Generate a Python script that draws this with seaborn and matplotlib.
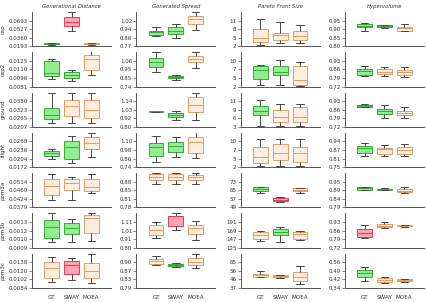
import numpy as np
import matplotlib
matplotlib.use('Agg')
import matplotlib.pyplot as plt
import seaborn as sns

ALGS = ['GT', 'SWAY', 'MOEA']
DATASETS = ['osp', 'osp2', 'ground', 'flight', 'pom3a', 'pom3b', 'pom3c']
METRICS = ['Generational Distance', 'Generated Spread', 'Pareto Front Size', 'Hypervolume']

# each box: [min, q1, median, q3, max], rows follow DATASETS, boxes follow ALGS
GD_BOXES = [
    [[0.0225, 0.0238, 0.0244, 0.0257, 0.0264], [0.0482, 0.0597, 0.0672, 0.0770, 0.0853], [0.0225, 0.0236, 0.0245, 0.0255, 0.0263]],
    [[0.00934, 0.00991, 0.01047, 0.01244, 0.0129], [0.00907, 0.00962, 0.01002, 0.01058, 0.0110], [0.01002, 0.01092, 0.01284, 0.01357, 0.01414]],
    [[0.0230, 0.0263, 0.0290, 0.0336, 0.0433], [0.0236, 0.0278, 0.0349, 0.0385, 0.0433], [0.0230, 0.0267, 0.0318, 0.0385, 0.0433]],
    [[0.0202, 0.0214, 0.0223, 0.0232, 0.0238], [0.0188, 0.0204, 0.0249, 0.0268, 0.0290], [0.0210, 0.0238, 0.0263, 0.0283, 0.0300]],
    [[0.0420, 0.0442, 0.0492, 0.0528, 0.0555], [0.0420, 0.0469, 0.0505, 0.0527, 0.0539], [0.0453, 0.0465, 0.0485, 0.0528, 0.0555]],
    [[0.00098, 0.00105, 0.001235, 0.00135, 0.001465], [0.00098, 0.00111, 0.00122, 0.00129, 0.00136], [0.00100, 0.00113, 0.00138, 0.00144, 0.00146]],
    [[0.0096, 0.0106, 0.0126, 0.0138, 0.0149], [0.0101, 0.0113, 0.0132, 0.0141, 0.0148], [0.0094, 0.0106, 0.0120, 0.0137, 0.0156]],
]
GS_BOXES = [
    [[0.876, 0.886, 0.908, 0.924, 0.959], [0.857, 0.895, 0.924, 0.959, 0.991], [0.931, 0.985, 1.042, 1.071, 1.103]],
    [[0.917, 0.987, 1.040, 1.090, 1.168], [0.822, 0.843, 0.855, 0.868, 0.888], [0.974, 1.052, 1.082, 1.119, 1.172]],
    [[0.998, 1.002, 1.008, 1.013, 1.017], [0.894, 0.928, 0.963, 0.984, 1.006], [0.899, 0.998, 1.093, 1.192, 1.244]],
    [[0.819, 0.903, 1.021, 1.072, 1.179], [0.889, 0.959, 1.039, 1.095, 1.156], [0.866, 0.945, 1.086, 1.165, 1.226]],
    [[0.873, 0.885, 0.898, 0.909, 0.913], [0.873, 0.886, 0.899, 0.909, 0.913], [0.873, 0.888, 0.900, 0.908, 0.913]],
    [[0.919, 0.959, 1.015, 1.078, 1.106], [1.011, 1.066, 1.177, 1.185, 1.217], [0.892, 0.963, 1.042, 1.074, 1.122]],
    [[0.892, 0.898, 0.909, 0.918, 0.929], [0.884, 0.888, 0.894, 0.898, 0.901], [0.880, 0.890, 0.904, 0.923, 0.940]],
]
PFS_BOXES = [
    [[2.35, 3.38, 4.88, 8.0, 11.58], [3.15, 4.31, 5.81, 6.73, 10.54], [3.15, 4.31, 5.69, 7.42, 9.5]],
    [[2.41, 4.36, 7.13, 8.46, 8.6], [2.41, 5.49, 6.62, 8.46, 10.4], [2.31, 2.62, 3.95, 8.46, 9.59]],
    [[3.81, 6.99, 8.43, 9.76, 11.71], [3.81, 4.84, 6.37, 8.73, 10.58], [3.81, 4.84, 6.37, 9.55, 10.58]],
    [[2.31, 3.35, 5.21, 8.33, 10.61], [2.31, 4.28, 6.35, 9.05, 10.61], [2.31, 3.45, 6.25, 8.12, 10.61]],
    [[62.3, 64.5, 66.1, 67.7, 68.3], [53.7, 55.0, 56.3, 57.9, 58.5], [62.6, 63.9, 65.2, 66.8, 67.4]],
    [[143.0, 148.1, 157.5, 165.3, 168.7], [140.4, 156.7, 164.4, 173.0, 178.9], [144.7, 148.1, 159.3, 165.3, 168.7]],
    [[48.7, 49.5, 50.9, 52.3, 55.1], [48.0, 48.7, 50.1, 51.2, 51.5], [41.6, 44.5, 49.1, 54.0, 61.5]],
]
HV_BOXES = [
    [[0.892, 0.910, 0.921, 0.931, 0.935], [0.904, 0.912, 0.919, 0.923, 0.927], [0.887, 0.892, 0.904, 0.915, 0.931]],
    [[0.803, 0.814, 0.847, 0.863, 0.890], [0.803, 0.823, 0.839, 0.860, 0.882], [0.801, 0.814, 0.836, 0.852, 0.882]],
    [[0.882, 0.884, 0.892, 0.900, 0.903], [0.795, 0.825, 0.847, 0.866, 0.898], [0.795, 0.814, 0.833, 0.849, 0.882]],
    [[0.828, 0.850, 0.885, 0.904, 0.921], [0.828, 0.846, 0.877, 0.889, 0.911], [0.828, 0.841, 0.872, 0.892, 0.919]],
    [[0.894, 0.898, 0.905, 0.911, 0.913], [0.896, 0.898, 0.901, 0.903, 0.905], [0.876, 0.880, 0.890, 0.901, 0.911]],
    [[0.799, 0.807, 0.840, 0.872, 0.902], [0.881, 0.886, 0.900, 0.916, 0.930], [0.892, 0.894, 0.900, 0.905, 0.905]],
    [[0.403, 0.433, 0.466, 0.494, 0.524], [0.384, 0.395, 0.411, 0.425, 0.436], [0.390, 0.398, 0.409, 0.417, 0.423]],
]

# y axis: (lowest tick, highest tick), four ticks evenly spaced
GD_TICKS = [(0.01933, 0.06933), (0.0081, 0.0125), (0.02068, 0.038041), (0.0172, 0.0268),
            (0.0379, 0.0514), (0.00088, 0.001315), (0.0084, 0.0138)]
GS_TICKS = [(0.774, 1.023), (0.74, 1.06), (0.803, 1.14), (0.74, 1.10),
            (0.78, 0.88), (0.804, 1.11), (0.7935, 0.9035)]
PFS_TICKS = [(2, 11), (2, 10), (3.4, 11.4), (2, 10), (49, 73), (125, 191), (37, 65)]
HV_TICKS = [(0.80, 0.95), (0.72, 0.93), (0.72, 0.93), (0.748, 0.936),
            (0.787, 0.947), (0.72, 0.93), (0.343, 0.56)]

# G = best group, R = worst group, P = the rest
GD_RANK = ['GRP', 'GGP', 'GPP', 'GGP', 'PPP', 'GGP', 'PRP']
GS_RANK = ['GGP', 'GGP', 'GGP', 'GGP', 'PPP', 'PRP', 'PGP']
PFS_RANK = ['PPP', 'GGP', 'GPP', 'PPP', 'GRP', 'PGP', 'PPP']
HV_RANK = ['GGP', 'GPP', 'GGP', 'GPP', 'GGP', 'RPP', 'GPP']

FILLS = {'G': '#90ee90', 'R': '#ffa3b3', 'P': '#fdeee2'}
EDGES = {'G': '#3aa83a', 'R': '#e0405a', 'P': '#e89a62'}

sns.set_style('ticks')
plt.rcParams.update({
    'font.family': ['DejaVu Sans'],
    'axes.edgecolor': '#555555',
    'axes.linewidth': 0.7,
    'xtick.color': '#555555',
    'ytick.color': '#555555',
    'xtick.labelcolor': '#333333',
    'ytick.labelcolor': '#333333',
})

columns = [
    (GD_BOXES, GD_TICKS, GD_RANK, '%.4f'),
    (GS_BOXES, GS_TICKS, GS_RANK, '%.2f'),
    (PFS_BOXES, PFS_TICKS, PFS_RANK, '%.0f'),
    (HV_BOXES, HV_TICKS, HV_RANK, '%.2f'),
]

fig, axes = plt.subplots(7, 4, figsize=(4.27, 3.03), dpi=100)
fig.subplots_adjust(left=32 / 427, right=424 / 427, top=1 - 12 / 303,
                    bottom=1 - 288 / 303, wspace=0.32, hspace=0.175)

for j, (boxes, lims, ranks, fmt) in enumerate(columns):
    for i, ds in enumerate(DATASETS):
        ax = axes[i, j]
        for k, alg in enumerate(ALGS):
            code = ranks[i][k]
            sns.boxplot(x=[alg] * 5, y=boxes[i][k], order=ALGS, ax=ax,
                        width=0.75, whis=(0, 100), saturation=1,
                        color=FILLS[code], linecolor=EDGES[code], linewidth=0.7,
                        whiskerprops={'color': '#444444'},
                        capprops={'color': '#444444'})
        lo, hi = lims[i]
        ticks = np.linspace(lo, hi, 4)
        ax.set_ylim(lo, hi + (hi - lo) / 3)
        ax.set_yticks(ticks)
        ax.set_yticklabels([fmt % t for t in ticks])
        ax.set_xlim(-1, 3)
        ax.tick_params(axis='y', labelsize=4, length=2, width=0.5, pad=1)
        ax.tick_params(axis='x', labelsize=4.1, length=0, pad=5)
        ax.set_xlabel('')
        ax.set_ylabel('')
        if i < 6:
            ax.set_xticklabels([])
        if j == 0:
            ax.set_ylabel(ds, fontsize=4, labelpad=2, color='#333333')
        if i == 0:
            ax.set_title(METRICS[j], fontsize=3.8, style='italic', pad=3, color='#333333')
        sns.despine(ax=ax)

fig.savefig('out.png', dpi=100)
